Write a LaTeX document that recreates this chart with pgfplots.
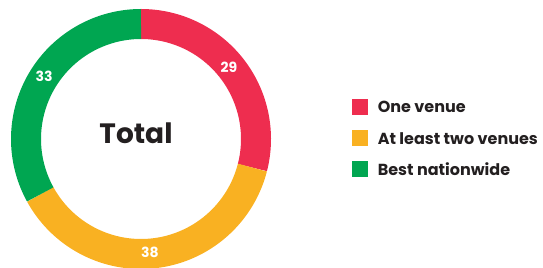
\documentclass[border=0pt]{standalone}
\usepackage{pgfplots}
\usepackage{pgfplotstable}
\pgfplotsset{compat=1.18}
\usepackage{fontspec}
\newfontfamily\heavy{Poppins Bold}
\definecolor{cred}{HTML}{EE2D4F}
\definecolor{corange}{HTML}{F9B122}
\definecolor{cgreen}{HTML}{00A651}
\definecolor{ctext}{HTML}{231F20}
\pgfplotstableread{
label value
One 29
Two 38
Best 33
}\donutdata
\pgfplotstablegetelem{0}{value}\of\donutdata \let\va\pgfplotsretval
\pgfplotstablegetelem{1}{value}\of\donutdata \let\vb\pgfplotsretval
\pgfplotstablegetelem{2}{value}\of\donutdata \let\vc\pgfplotsretval
\pgfmathsetmacro{\aA}{3.6*\va}
\pgfmathsetmacro{\aB}{3.6*(\va+\vb)}
\pgfmathsetmacro{\aC}{3.6*(\va+\vb+\vc)}
\begin{document}
\begin{tikzpicture}
\begin{axis}[
  scale only axis, width=543bp, height=268bp,
  xmin=-141, xmax=402, ymin=-129, ymax=139,
  axis lines=none, clip=false,
  legend image code/.code={\fill[#1, draw=none] (0bp,-7.8bp) rectangle (15.6bp,7.8bp);},
  legend style={at={(axis cs:211,40)}, anchor=north west, draw=none, fill=none,
    font=\heavy\fontsize{16bp}{18bp}\selectfont, text=ctext,
    row sep=15.5bp, inner sep=0pt, nodes={inner xsep=0pt, inner ysep=0pt, text depth=0pt}},
  legend cell align=left,
]
\addplot[color=cred, line width=30bp, domain=0:\aA, samples=80, variable=\t] ({115*sin(\t)},{115*cos(\t)});
\addlegendentry{\hspace{10bp}One venue}
\addplot[color=corange, line width=30bp, domain=\aA:\aB, samples=100, variable=\t] ({115*sin(\t)},{115*cos(\t)});
\addlegendentry{\hspace{10bp}At least two venues}
\addplot[color=cgreen, line width=30bp, domain=\aB:\aC, samples=90, variable=\t] ({115*sin(\t)},{115*cos(\t)});
\addlegendentry{\hspace{10bp}Best nationwide}
\node[text=white, font=\heavy\fontsize{14bp}{16bp}\selectfont] at (axis cs:88,72) {29};
\node[text=white, font=\heavy\fontsize{14bp}{16bp}\selectfont] at (axis cs:9,-113) {38};
\node[text=white, font=\heavy\fontsize{14bp}{16bp}\selectfont] at (axis cs:-97,63) {33};
\node[text=ctext, font=\heavy\fontsize{28bp}{32bp}\selectfont] at (axis cs:-5,6) {Total};
\end{axis}
\pgfresetboundingbox
\useasboundingbox (current axis.south west) rectangle (current axis.north east);
\end{tikzpicture}
\end{document}
